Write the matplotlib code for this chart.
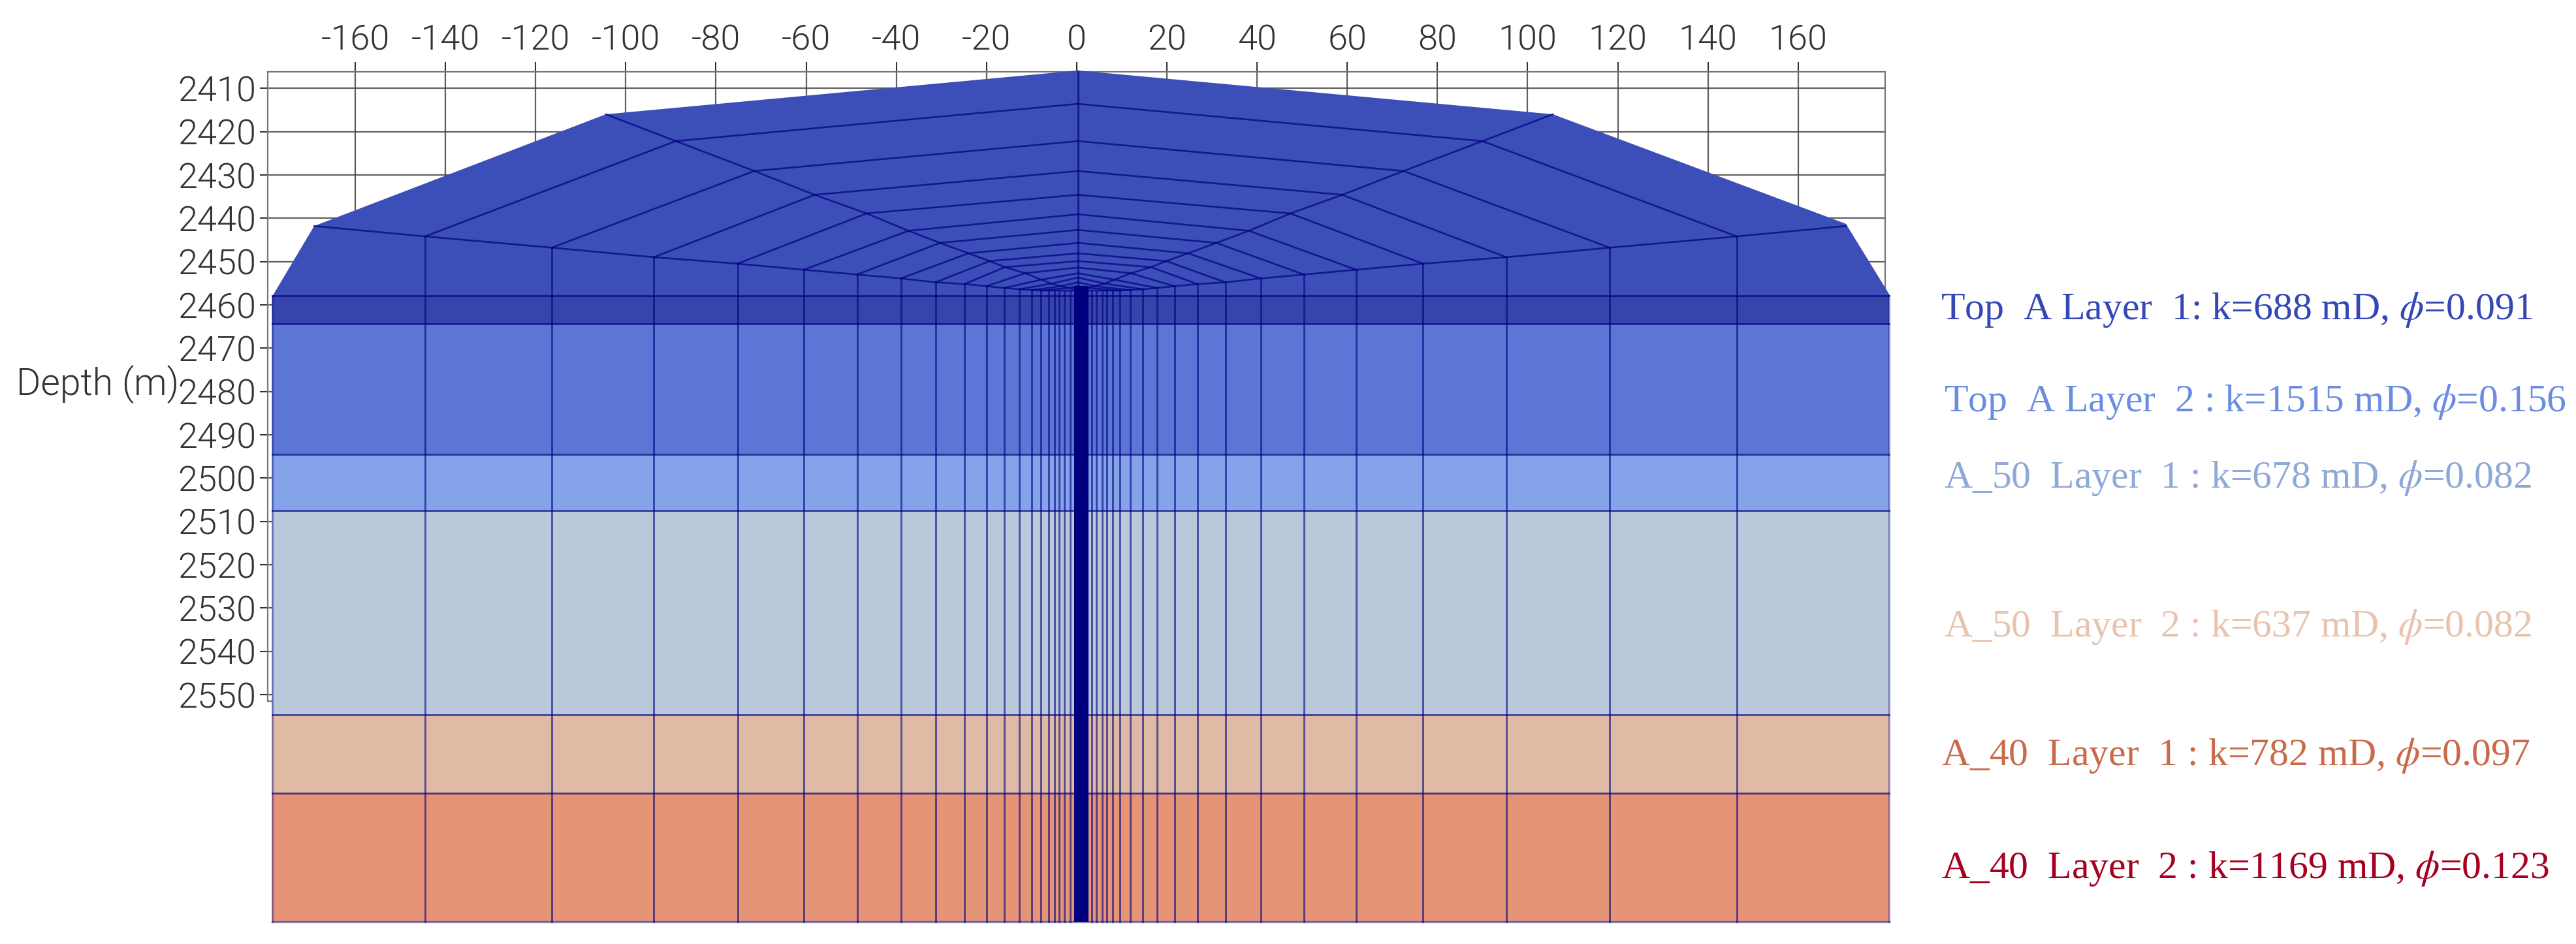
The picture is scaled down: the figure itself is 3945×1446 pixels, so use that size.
import numpy as np
import matplotlib
matplotlib.use("Agg")
import matplotlib.pyplot as plt

W, H = 3945, 1446

# layer interfaces (depth, m) and fills, top to bottom
layer_tops = [2457.9, 2464.4, 2494.5, 2507.5, 2554.6, 2572.7]
layer_bots = [2464.4, 2494.5, 2507.5, 2554.6, 2572.7, 2602.5]
layer_colors = ["#3545ab", "#5b76d5", "#84a3e9", "#bbc8dc", "#e1baa5", "#e59476"]
dome_color = "#3c4eb8"
mesh_color = "#00007f"

layer_labels = [
    r"Top  A Layer  1: k=688 mD, $\phi$=0.091",
    r"Top  A Layer  2 : k=1515 mD, $\phi$=0.156",
    r"A_50  Layer  1 : k=678 mD, $\phi$=0.082",
    r"A_50  Layer  2 : k=637 mD, $\phi$=0.082",
    r"A_40  Layer  1 : k=782 mD, $\phi$=0.097",
    r"A_40  Layer  2 : k=1169 mD, $\phi$=0.123",
]
label_colors = ["#3447b5", "#6a8de2", "#8fa9d6", "#e8c3ae", "#c96a4a", "#a5001f"]

# dome outline, x (m) and depth (m)
dome_x = [-178.3, -169.1, -104.4, 0.3, 105.6, 170.6, 180.4]
dome_d = [2457.9, 2441.8, 2416.0, 2405.9, 2416.0, 2441.3, 2457.9]

# vertical grid lines of the mesh
mesh_x = [-178.4, -144.5, -116.4, -93.8, -75.2, -60.5, -48.7, -39.0, -31.3, -24.9,
          -20.0, -16.1, -12.7, -10.0, -8.0, -6.2, -4.9, -3.9, -2.8, -1.4,
          3.3, 4.3, 5.6, 6.7, 8.0, 9.6, 11.9, 14.6, 17.8, 21.7, 26.8, 33.0, 40.8,
          50.4, 62.0, 76.8, 95.3, 118.2, 146.4, 180.2]
well_x = [-0.5, 2.6]

# dome rings: centre line, the two spines, and where they land on the flanks
ring_center = [2406.1, 2413.6, 2422.2, 2429.1, 2434.6, 2439.1, 2442.7, 2445.7,
               2448.1, 2449.9, 2451.4, 2452.7, 2453.7, 2454.8, 2455.7]
spine_d = [2416.0, 2422.2, 2429.1, 2434.6, 2438.9, 2442.9, 2445.7, 2448.1,
           2449.9, 2451.3, 2452.7, 2454.2, 2455.1, 2455.7, 2456.1]
spine_left = [-104.4, -88.9, -71.5, -58.1, -46.6, -37.3, -30.3, -24.0,
              -19.3, -15.9, -11.4, -7.8, -5.6, -3.5, -1.9]
spine_right = [105.6, 90.0, 72.5, 58.9, 47.4, 38.2, 31.0, 24.7,
               19.9, 16.5, 12.0, 8.4, 6.2, 4.1, 2.5]
base_d = [2441.8, 2444.2, 2446.8, 2449.0, 2450.5, 2451.9, 2453.0, 2453.9,
          2454.8, 2455.2, 2455.7, 2456.1, 2456.4, 2456.6, 2456.7]
base_left = [-169.1, -144.5, -116.4, -93.8, -75.2, -60.5, -48.7, -39.0,
             -31.3, -24.9, -20.0, -16.1, -12.7, -10.0, -8.0]
base_right = [170.6, 146.4, 118.2, 95.3, 76.8, 62.0, 50.4, 40.8,
              33.0, 26.8, 21.7, 17.8, 14.6, 11.9, 9.6]
inner_left = [-6.2, -4.9, -3.9, -2.8, -1.4]
inner_right = [8.0, 6.7, 5.6, 4.3, 3.3]
inner_d = [2456.9, 2456.9, 2457.0, 2457.0, 2457.0]

x_ticks = list(range(-160, 161, 20))
y_ticks = list(range(2410, 2551, 10))

plt.rcParams['font.family'] = 'Roboto'
plt.rcParams['mathtext.fontset'] = 'stix'
plt.rcParams['axes.unicode_minus'] = False

fig = plt.figure(figsize=(W / 100, H / 100), dpi=100)
ax = fig.add_axes([410 / W, 1 - 1074 / H, (2887 - 410) / W, (1074 - 110) / H])
ax.set_xlim(-179.4, 179.3)
ax.set_ylim(2551.5, 2406.2)
ax.set_axisbelow(True)

ax.xaxis.tick_top()
ax.set_xticks(x_ticks)
ax.set_yticks(y_ticks)
ax.tick_params(axis='x', length=11, width=1.5, pad=5, labelsize=39, color='#333333', labelcolor='#333333')
ax.tick_params(axis='y', length=9, width=1.5, pad=4, labelsize=39, color='#333333', labelcolor='#333333')
for lab in ax.get_xticklabels() + ax.get_yticklabels():
    lab.set_fontweight(300)
ax.grid(True, color='#444444', linewidth=1.6, alpha=0.85)
for spine in ax.spines.values():
    spine.set_color('#777777')
    spine.set_linewidth(1.6)

ax.set_ylabel("Depth (m)", rotation=0, ha='left', va='center', fontsize=41, fontweight=300, color='#333333')
ax.yaxis.set_label_coords((25 - 410) / (2887 - 410), 1 - (589 - 110) / (1074 - 110))

# filled volumes
ax.fill(dome_x, dome_d, color=dome_color, lw=0, zorder=3, clip_on=False)
for top, bot, col in zip(layer_tops, layer_bots, layer_colors):
    ax.fill_between([mesh_x[0], mesh_x[-1]], top, bot, color=col, lw=0, zorder=3, clip_on=False)

# mesh below the dome
for xv, start in zip(base_left[1:] + inner_left + inner_right + base_right[1:],
                     base_d[1:] + inner_d + inner_d + base_d[1:]):
    ax.plot([xv, xv], [start, layer_bots[-1]], color=mesh_color, lw=2.1, alpha=0.6, zorder=4, clip_on=False)
for d in layer_tops:
    ax.plot([mesh_x[0], mesh_x[-1]], [d, d], color=mesh_color, lw=2.1, alpha=0.65, zorder=4, clip_on=False)
ax.plot([mesh_x[0], mesh_x[-1]], [layer_bots[-1]] * 2, color=mesh_color, lw=2.4, alpha=0.45, zorder=4, clip_on=False)
for xv in [mesh_x[0], mesh_x[-1]]:
    ax.plot([xv, xv], [layer_tops[0], layer_bots[-1]], color=mesh_color, lw=2.1, alpha=0.45, zorder=4, clip_on=False)
ax.fill_betweenx([ring_center[-1], layer_bots[-1]], well_x[0], well_x[1], color=mesh_color, lw=0, zorder=5, clip_on=False)

# mesh inside the dome
for i in range(1, len(ring_center)):
    ring_x = [base_left[i], spine_left[i], 0.3, spine_right[i], base_right[i]]
    ring_d = [base_d[i], spine_d[i], ring_center[i], spine_d[i], base_d[i]]
    ax.plot(ring_x, ring_d, color=mesh_color, lw=1.9, alpha=0.7, zorder=4, clip_on=False)
ax.plot(spine_left + [0.3], spine_d + [2456.5], color=mesh_color, lw=1.9, alpha=0.7, zorder=4, clip_on=False)
ax.plot(spine_right + [0.3], spine_d + [2456.5], color=mesh_color, lw=1.9, alpha=0.7, zorder=4, clip_on=False)
ax.plot(base_left + [0.3] + base_right[::-1], base_d + [2456.7] + base_d[::-1],
        color=mesh_color, lw=1.9, alpha=0.7, zorder=4, clip_on=False)
ax.plot([0.3, 0.3], [ring_center[0], ring_center[-1]], color=mesh_color, lw=1.9, alpha=0.75, zorder=4, clip_on=False)

# layer labels on the right
label_px = [(2972, 489), (2977, 630), (2977, 747), (2977, 975), (2973, 1172), (2973, 1345)]
for txt, col, (px, py) in zip(layer_labels, label_colors, label_px):
    fig.text(px / W, 1 - py / H, txt, color=col, fontsize=43, family='Liberation Serif', ha='left', va='baseline')

fig.savefig("out.png", dpi=100)
